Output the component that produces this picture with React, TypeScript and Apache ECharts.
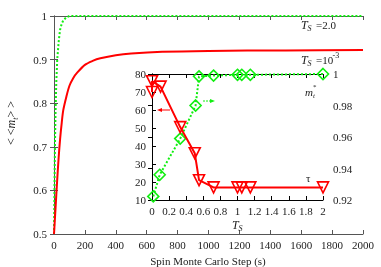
import React, { useEffect, useRef } from "react";
import * as echarts from "echarts";

const FONT = "'Liberation Serif', 'Times New Roman', serif";

// Main plot: <<m_t>> vs Spin Monte Carlo Step
const redSteps = [0, 10, 20, 30, 40, 50, 60, 80, 100, 125, 150, 200, 250, 300, 400, 500, 700, 1000, 1500, 2000];
const redValues = [0.5, 0.56, 0.62, 0.675, 0.72, 0.755, 0.784, 0.815, 0.84, 0.858, 0.87, 0.888, 0.897, 0.903, 0.91, 0.914, 0.918, 0.92, 0.921, 0.922];
const greenSteps = [0, 3, 6, 10, 15, 21, 30, 39, 50, 60, 80, 100, 2000];
const greenValues = [0.5, 0.6, 0.7, 0.78, 0.85, 0.9, 0.94, 0.968, 0.982, 0.99, 0.997, 1, 1];

// Inset: tau and m_t* vs T_S
const tauTs = [0, 0, 0.1, 0.33, 0.5, 0.55, 0.72, 1.0, 1.05, 1.15, 2.0];
const tauValues = [70, 76, 73, 50.5, 36, 21, 17, 17, 17, 17, 17];
const mTs = [0.015, 0.09, 0.33, 0.51, 0.55, 0.72, 1.0, 1.05, 1.15, 2.0];
const mValues = [0.9223, 0.936, 0.959, 0.98, 0.9985, 0.999, 0.9995, 0.9995, 0.9995, 1.0];

const zip = (a: number[], b: number[]) => a.map((v, i) => [v, b[i]]);
const fmt = (v: number) => String(Number(v.toFixed(3)));

export default function App() {
  const ref = useRef<HTMLDivElement>(null);
  useEffect(() => {
    if (!ref.current) return;
    const chart = echarts.init(ref.current, null, { renderer: "svg" });
    const axisLabel = { fontFamily: FONT, fontSize: 11, color: "#222" };
    const mainLine = { lineStyle: { color: "#555", width: 1 } };
    const insetLine = { lineStyle: { color: "#000", width: 1 } };
    const txt = (x: number, y: number, text: string, size: number, italic = false, extra: any = {}) => ({
      type: "text",
      x,
      y,
      z: 100,
      style: {
        text,
        fontFamily: FONT,
        fontSize: size,
        fontStyle: italic ? "italic" : "normal",
        fill: "#222",
        textVerticalAlign: "middle",
        ...extra,
      },
    });
    chart.setOption({
      animation: false,
      textStyle: { fontFamily: FONT },
      grid: [
        { left: 54, top: 16, width: 309, height: 218, show: false },
        { left: 152, top: 74, width: 171, height: 126, show: true, backgroundColor: "#fff", borderWidth: 0, z: 5 },
      ],
      xAxis: [
        {
          gridIndex: 0, type: "value", min: 0, max: 2000, interval: 200,
          axisLine: mainLine, axisTick: { inside: true, length: 4, lineStyle: { color: "#555" } },
          axisLabel: { ...axisLabel, margin: 5, formatter: (v: number) => String(v) }, splitLine: { show: false },
        },
        {
          gridIndex: 0, type: "value", position: "top", min: 0, max: 2000, interval: 200,
          axisLine: mainLine, axisTick: { inside: true, length: 4, lineStyle: { color: "#555" } },
          axisLabel: { show: false }, splitLine: { show: false },
        },
        {
          gridIndex: 1, type: "value", min: 0, max: 2, interval: 0.2, z: 10,
          axisLine: insetLine, axisTick: { inside: true, length: 4, lineStyle: { color: "#000" } },
          axisLabel: { ...axisLabel, margin: 5, formatter: fmt }, splitLine: { show: false },
        },
        {
          gridIndex: 1, type: "value", position: "top", min: 0, max: 2, interval: 0.2, z: 10,
          axisLine: insetLine, axisTick: { inside: true, length: 4, lineStyle: { color: "#000" } },
          axisLabel: { show: false }, splitLine: { show: false },
        },
      ],
      yAxis: [
        {
          gridIndex: 0, type: "value", min: 0.5, max: 1, interval: 0.1,
          axisLine: mainLine, axisTick: { inside: true, length: 4, lineStyle: { color: "#555" } },
          axisLabel: { ...axisLabel, margin: 7, formatter: fmt }, splitLine: { show: false },
        },
        {
          gridIndex: 0, type: "value", position: "right", min: 0.5, max: 1, interval: 0.1,
          axisLine: mainLine, axisTick: { inside: true, length: 4, lineStyle: { color: "#555" } },
          axisLabel: { show: false }, splitLine: { show: false },
        },
        {
          gridIndex: 1, type: "value", min: 10, max: 80, interval: 10, z: 10,
          axisLine: insetLine, axisTick: { inside: true, length: 4, lineStyle: { color: "#000" } },
          axisLabel: { ...axisLabel, margin: 6 }, splitLine: { show: false },
        },
        {
          gridIndex: 1, type: "value", position: "right", min: 0.92, max: 1, interval: 0.02, z: 10,
          axisLine: insetLine, axisTick: { inside: true, length: 4, lineStyle: { color: "#000" } },
          axisLabel: { ...axisLabel, margin: 10, formatter: fmt }, splitLine: { show: false },
        },
      ],
      series: [
        {
          type: "line", xAxisIndex: 0, yAxisIndex: 0, data: zip(greenSteps, greenValues),
          showSymbol: false, lineStyle: { color: "#11ee11", width: 2, type: "dotted" }, z: 2,
        },
        {
          type: "line", xAxisIndex: 0, yAxisIndex: 0, data: zip(redSteps, redValues),
          showSymbol: false, smooth: 0.3, lineStyle: { color: "#ff0000", width: 2 }, z: 3,
        },
        {
          type: "line", xAxisIndex: 2, yAxisIndex: 3, data: zip(mTs, mValues), z: 11,
          symbol: "diamond", symbolSize: 11, showAllSymbol: true,
          lineStyle: { color: "#11ee11", width: 2, type: "dotted" },
          itemStyle: { color: "rgba(255,255,255,0)", borderColor: "#11ee11", borderWidth: 1.6 },
        },
        {
          type: "line", xAxisIndex: 2, yAxisIndex: 2, data: zip(tauTs, tauValues), z: 12,
          symbol: "triangle", symbolRotate: 180, symbolSize: 11, showAllSymbol: true,
          lineStyle: { color: "#ff0000", width: 2 },
          itemStyle: { color: "rgba(255,255,255,0)", borderColor: "#ff0000", borderWidth: 1.6 },
        },
      ],
      graphic: [
        {
          type: "text", x: 11, y: 123, rotation: Math.PI / 2, z: 100,
          style: {
            text: "{a|< <}{i|m}{s|t}{a|> >}",
            fontFamily: FONT, fill: "#222", align: "center", verticalAlign: "middle",
            rich: {
              a: { fontFamily: FONT, fontSize: 12, lineHeight: 16, verticalAlign: "middle", fill: "#222" },
              i: { fontFamily: FONT, fontSize: 12, fontStyle: "italic", lineHeight: 16, verticalAlign: "middle", fill: "#222" },
              s: { fontFamily: FONT, fontSize: 8, fontStyle: "italic", lineHeight: 16, verticalAlign: "bottom", fill: "#222" },
            },
          },
        },
        txt(208, 261, "Spin Monte Carlo Step (s)", 11, false, { textAlign: "center" }),
        txt(301, 25, "T", 12, true),
        txt(307.5, 28.5, "S", 8, true),
        txt(316, 25, "=2.0", 11),
        txt(301, 60, "T", 12, true),
        txt(307.5, 63.5, "S", 8, true),
        txt(316, 60, "=10", 11),
        txt(332.5, 55, "-3", 8),
        txt(305, 92, "m", 11, true),
        txt(313, 96, "t", 7, true),
        txt(313, 86.5, "*", 7),
        txt(306, 178, "τ", 11),
        txt(232, 225, "T", 12, true),
        txt(238.5, 228.5, "S", 8, true),
        { type: "line", z: 100, shape: { x1: 161, y1: 110, x2: 170, y2: 110 }, style: { stroke: "#ff0000", lineWidth: 1 } },
        { type: "polygon", z: 100, shape: { points: [[157, 110], [162, 108], [162, 112]] }, style: { fill: "#ff0000" } },
        { type: "line", z: 100, shape: { x1: 203, y1: 101, x2: 211, y2: 101 }, style: { stroke: "#11ee11", lineWidth: 1, lineDash: [2, 1] } },
        { type: "polygon", z: 100, shape: { points: [[215, 101], [210, 99], [210, 103]] }, style: { fill: "#11ee11" } },
      ],
    });
    return () => chart.dispose();
  }, []);
  return <div ref={ref} style={{ position: "fixed", left: 0, top: 0, width: 381, height: 267 }} />;
}
